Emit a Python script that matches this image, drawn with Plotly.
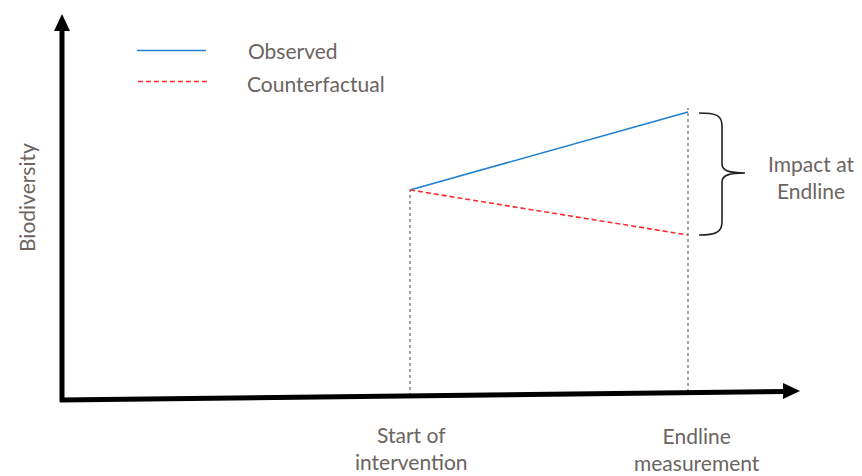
import plotly.graph_objects as go

# ---- data (y = biodiversity, arbitrary units) ----
time_labels = ["Start of<br>intervention", "Endline<br>measurement"]
time_x = [410, 688]
observed = [286, 364]
counterfactual = [286, 241]
axis_y_at_time = [80, 84]        # baseline (slanted time axis) under each time point
series_names = ["Observed", "Counterfactual"]

W, H = 862, 476
TXT = "#6b6461"
FONT = "Lato, 'Open Sans', sans-serif"
BLUE = "#1f7fd0"
RED = "#ff2b2b"
FS = 21
RED_DASH = "5px,3px"

def Y(py):
    return H - py

fig = go.Figure()

# main lines
fig.add_trace(go.Scatter(x=time_x, y=observed, mode="lines",
                         line=dict(color=BLUE, width=1.6), name=series_names[0],
                         showlegend=False))
fig.add_trace(go.Scatter(x=time_x, y=counterfactual, mode="lines",
                         line=dict(color=RED, width=1.6, dash=RED_DASH),
                         name=series_names[1], showlegend=False))

shapes = []
# vertical dotted guide lines
for xv, top, base in zip(time_x, [observed[0], max(observed[1], counterfactual[1]) + 4], axis_y_at_time):
    shapes.append(dict(type="line", x0=xv, x1=xv, y0=base, y1=top,
                       line=dict(color="#444444", width=1, dash="dot"), layer="below"))

# y axis (arrow)
shapes.append(dict(type="line", x0=62, x1=62, y0=Y(402), y1=Y(28),
                   line=dict(color="black", width=5)))
shapes.append(dict(type="path", path=f"M 54,{Y(31)} L 70,{Y(31)} L 62,{Y(14)} Z",
                   fillcolor="black", line=dict(color="black", width=0)))
# x axis (arrow, slightly slanted)
shapes.append(dict(type="line", x0=60, x1=786, y0=Y(400), y1=Y(391.5),
                   line=dict(color="black", width=5)))
shapes.append(dict(type="path",
                   path=f"M 783,{Y(383)} L 800,{Y(391)} L 783,{Y(399)} Z",
                   fillcolor="black", line=dict(color="black", width=0)))

# curly brace
bp = (f"M 699,{Y(113)} C 716,{Y(113)} 722,{Y(115)} 722,{Y(126)} "
      f"L 722,{Y(164)} C 722,{Y(171)} 730,{Y(173)} 745,{Y(173)} "
      f"C 730,{Y(173)} 722,{Y(175)} 722,{Y(182)} "
      f"L 722,{Y(222)} C 722,{Y(232)} 716,{Y(235)} 699,{Y(235)}")
shapes.append(dict(type="path", path=bp, line=dict(color="#222222", width=1.6)))

# legend samples
shapes.append(dict(type="line", x0=137, x1=206, y0=Y(50.5), y1=Y(50.5),
                   line=dict(color=BLUE, width=1.6)))
shapes.append(dict(type="line", x0=138, x1=208, y0=Y(81.5), y1=Y(81.5),
                   line=dict(color=RED, width=1.6, dash=RED_DASH)))

annotations = [
    dict(x=246, y=Y(50), text=series_names[0], xanchor="left", yanchor="middle",
         showarrow=False, font=dict(size=FS, color=TXT, family=FONT)),
    dict(x=245, y=Y(83), text=series_names[1], xanchor="left", yanchor="middle",
         showarrow=False, font=dict(size=FS, color=TXT, family=FONT)),
    dict(x=26, y=Y(198), text="Biodiversity", textangle=-90, xanchor="center",
         yanchor="middle", showarrow=False, font=dict(size=FS, color=TXT, family=FONT)),
    dict(x=811, y=Y(177), text="Impact at<br>Endline", xanchor="center", yanchor="middle",
         showarrow=False, font=dict(size=FS, color=TXT, family=FONT)),
]
for xv, lab, dx, py in zip(time_x, time_labels, [1, 9], [448, 449]):
    annotations.append(dict(x=xv + dx, y=Y(py), text=lab, xanchor="center", yanchor="middle",
                            showarrow=False, font=dict(size=FS, color=TXT, family=FONT)))

fig.update_layout(
    width=W, height=H, margin=dict(l=0, r=0, t=0, b=0),
    paper_bgcolor="white", plot_bgcolor="white",
    xaxis=dict(range=[0, W], visible=False, fixedrange=True),
    yaxis=dict(range=[0, H], visible=False, fixedrange=True),
    shapes=shapes, annotations=annotations, showlegend=False,
)
fig.write_html("out.html", config=dict(displayModeBar=False),
               post_script="document.body.style.margin='0';document.body.style.overflow='hidden';")
